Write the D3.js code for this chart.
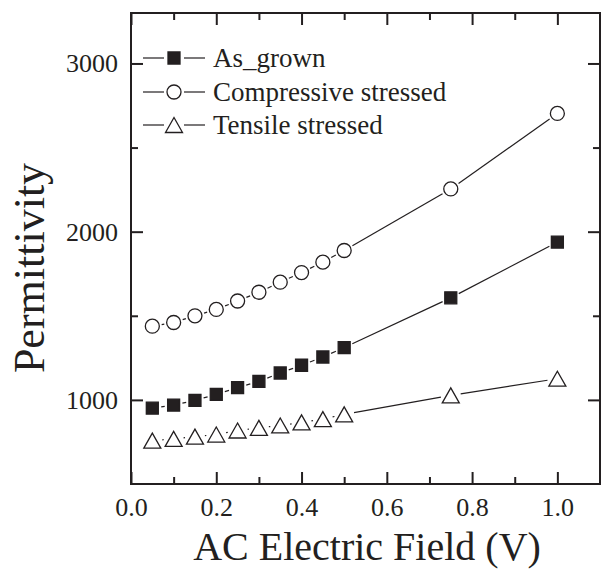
<!DOCTYPE html>
<html>
<head>
<meta charset="utf-8">
<script src="https://cdn.jsdelivr.net/npm/d3@7"></script>
<style>
  body { margin: 0; background: #fff; }
  text { font-family: "Liberation Serif", "Times New Roman", serif; fill: #231f20; }
</style>
</head>
<body>
<svg width="602" height="569"></svg>
<script>
// data
var fieldV = [0.05, 0.1, 0.15, 0.2, 0.25, 0.3, 0.35, 0.4, 0.45, 0.5, 0.75, 1.0];
var asGrown = [951, 969, 997, 1033, 1073, 1110, 1160, 1206, 1255, 1311, 1607, 1938];
var compressive = [1438, 1460, 1500, 1538, 1588, 1640, 1700, 1757, 1819, 1888, 2254, 2703];
var tensile = [758, 768, 782, 794, 818, 834, 848, 866, 886, 914, 1027, 1126];
var seriesNames = ["As_grown", "Compressive stressed", "Tensile stressed"];
var xMajor = [0, 0.2, 0.4, 0.6, 0.8, 1.0];
var xMinor = [0.1, 0.3, 0.5, 0.7, 0.9];
var yMajor = [1000, 2000, 3000];
var yMinor = [1500, 2500];

function main() {
    var svg = d3.select("svg");
    var left = 131, right = 600, top = 13, bottom = 484;
    var ink = "#231f20";

    var x = d3.scaleLinear().domain([0, 1.1]).range([left, right]);
    var y = d3.scaleLinear().domain([500, 3300]).range([bottom, top]);

    // axes, ticks pointing inward on all four sides
    function styleAxis(g) {
        g.attr("font-family", "Liberation Serif, serif").attr("font-size", 26);
        g.select(".domain").remove();
        g.selectAll("line").attr("stroke", ink).attr("stroke-width", 2);
        g.selectAll("text")
            .attr("font-family", "Liberation Serif, serif")
            .attr("font-size", 26).attr("fill", ink);
    }
    function styleMinor(g) {
        styleAxis(g);
        g.selectAll("text").remove();
    }

    svg.append("g").attr("transform", "translate(0," + bottom + ")")
        .call(d3.axisBottom(x).tickValues(xMajor).tickSize(-12).tickPadding(14).tickFormat(d3.format(".1f")))
        .call(styleAxis);
    svg.append("g").attr("transform", "translate(0," + bottom + ")")
        .call(d3.axisBottom(x).tickValues(xMinor).tickSize(-7))
        .call(styleMinor);
    svg.append("g").attr("transform", "translate(0," + top + ")")
        .call(d3.axisTop(x).tickValues(xMajor).tickSize(-12))
        .call(styleMinor);
    svg.append("g").attr("transform", "translate(0," + top + ")")
        .call(d3.axisTop(x).tickValues(xMinor).tickSize(-7))
        .call(styleMinor);

    svg.append("g").attr("transform", "translate(" + left + ",0)")
        .call(d3.axisLeft(y).tickValues(yMajor).tickSize(-12).tickPadding(13).tickFormat(d3.format("d")))
        .call(styleAxis);
    svg.append("g").attr("transform", "translate(" + left + ",0)")
        .call(d3.axisLeft(y).tickValues(yMinor).tickSize(-7))
        .call(styleMinor);
    svg.append("g").attr("transform", "translate(" + right + ",0)")
        .call(d3.axisRight(y).tickValues(yMajor).tickSize(-12))
        .call(styleMinor);
    svg.append("g").attr("transform", "translate(" + right + ",0)")
        .call(d3.axisRight(y).tickValues(yMinor).tickSize(-7))
        .call(styleMinor);

    // frame
    svg.append("rect")
        .attr("x", left).attr("y", top)
        .attr("width", right - left).attr("height", bottom - top)
        .attr("fill", "none").attr("stroke", ink).attr("stroke-width", 2);

    // axis titles
    svg.append("text")
        .attr("x", 367).attr("y", 560)
        .attr("text-anchor", "middle")
        .attr("font-size", "40px")
        .text("AC Electric Field (V)");

    svg.append("text")
        .attr("transform", "translate(44,268) rotate(-90)")
        .attr("text-anchor", "middle")
        .attr("font-size", "44px")
        .text("Permittivity");

    // marker drawing
    var symbols = [
        { path: "M-6,-6H6V6H-6Z", fill: ink, gap: 9 },
        { path: d3.symbol().type(d3.symbolCircle).size(Math.PI * 49)(), fill: "#fff", gap: 9.5 },
        { path: "M-8.5,7.5L8.5,7.5L0,-7.5Z", fill: "#fff", gap: 10 }
    ];
    var allSeries = [asGrown, compressive, tensile];

    allSeries.forEach(function (vals, s) {
        var pts = vals.map(function (v, i) { return [x(fieldV[i]), y(v)]; });
        var g = svg.append("g");
        var sym = symbols[s];

        // connecting lines with a gap round each symbol
        for (var i = 0; i < pts.length - 1; i++) {
            var a = pts[i], b = pts[i + 1];
            var dx = b[0] - a[0], dy = b[1] - a[1];
            var len = Math.sqrt(dx * dx + dy * dy);
            if (len <= sym.gap * 2) continue;
            var ux = dx / len, uy = dy / len;
            g.append("line")
                .attr("x1", a[0] + ux * sym.gap).attr("y1", a[1] + uy * sym.gap)
                .attr("x2", b[0] - ux * sym.gap).attr("y2", b[1] - uy * sym.gap)
                .attr("stroke", ink).attr("stroke-width", 1.2);
        }

        g.selectAll(".mark")
            .data(pts)
            .enter().append("path")
            .attr("class", "mark")
            .attr("transform", function (d) { return "translate(" + d[0] + "," + d[1] + ")"; })
            .attr("d", sym.path)
            .attr("fill", sym.fill)
            .attr("stroke", ink)
            .attr("stroke-width", 1.3);
    });

    // legend
    var legendY = [58, 92, 125];
    seriesNames.forEach(function (name, s) {
        var ly = legendY[s];
        var lg = svg.append("g");
        lg.append("line").attr("x1", 143).attr("x2", 164).attr("y1", ly).attr("y2", ly)
            .attr("stroke", ink).attr("stroke-width", 1.2);
        lg.append("line").attr("x1", 184).attr("x2", 205).attr("y1", ly).attr("y2", ly)
            .attr("stroke", ink).attr("stroke-width", 1.2);
        lg.append("path")
            .attr("transform", "translate(174," + ly + ")")
            .attr("d", symbols[s].path)
            .attr("fill", symbols[s].fill)
            .attr("stroke", ink)
            .attr("stroke-width", 1.3);
        lg.append("text")
            .attr("x", 213).attr("y", ly + 8.5)
            .attr("font-size", "27px")
            .text(name);
    });
}
main();
</script>
</body>
</html>
